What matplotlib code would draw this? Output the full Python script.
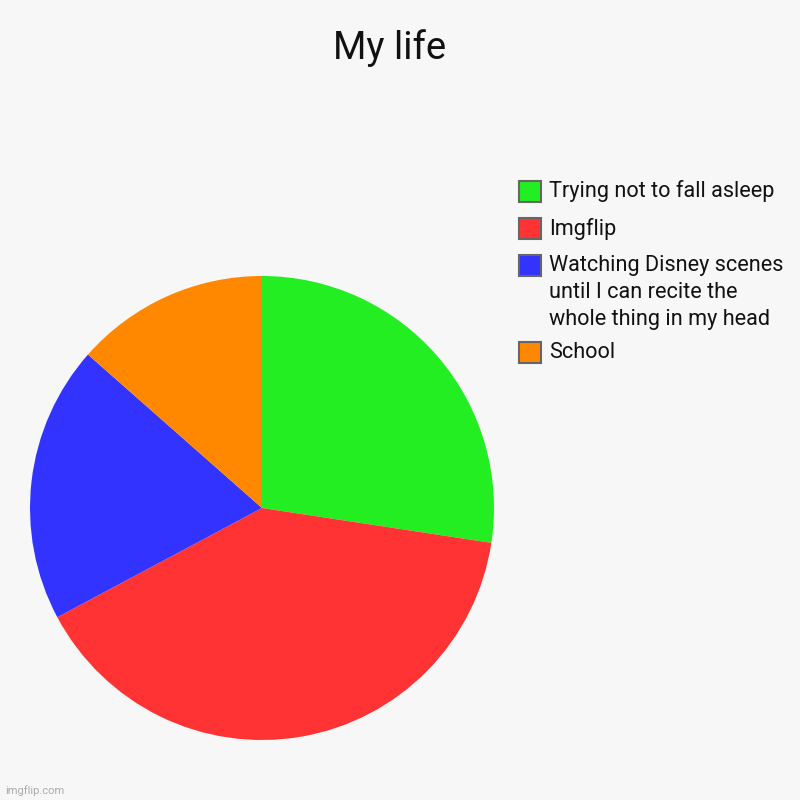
import matplotlib.pyplot as plt
from matplotlib.patches import Rectangle

labels = ["Trying not to fall asleep", "Imgflip",
          "Watching Disney scenes\nuntil I can recite the\nwhole thing in my head",
          "School"]
values = [27.4, 39.8, 19.3, 13.5]
colors = ["#22ee22", "#ff3333", "#3333ff", "#ff8800"]

plt.rcParams['font.family'] = ['Roboto', 'DejaVu Sans']

fig = plt.figure(figsize=(8, 8), dpi=100, facecolor="#f7f7f7")
ax = fig.add_axes([0.0375, 0.075, 0.58, 0.58])
ax.set_facecolor("#f7f7f7")
ax.pie(values, colors=colors, startangle=90, counterclock=False,
       wedgeprops=dict(linewidth=0))
ax.set_xlim(-1, 1)
ax.set_ylim(-1, 1)
ax.set_aspect("equal")
ax.axis("off")

fig.text(0.4875, 0.94, "My life", ha="center", va="center", fontsize=27.5, color="#111111")

# legend drawn by hand so boxes line up with the first line of each label
rows_top = [181, 218, 255, 342]
for lab, col, top in zip(labels, colors, rows_top):
    fig.add_artist(Rectangle((519 / 800, 1 - (top + 21) / 800), 22 / 800, 21 / 800,
                             transform=fig.transFigure, facecolor=col,
                             edgecolor="#666666", linewidth=1.5))
    fig.text(549 / 800, 1 - (top - 0.5) / 800, lab, ha="left", va="top",
             fontsize=15.6, color="#111111", linespacing=1.38)

fig.text(5 / 800, 1 - 791 / 800, "imgflip.com", ha="left", va="center",
         fontsize=8, color="#aaaaaa")

fig.savefig("out.png", dpi=100, facecolor=fig.get_facecolor())
